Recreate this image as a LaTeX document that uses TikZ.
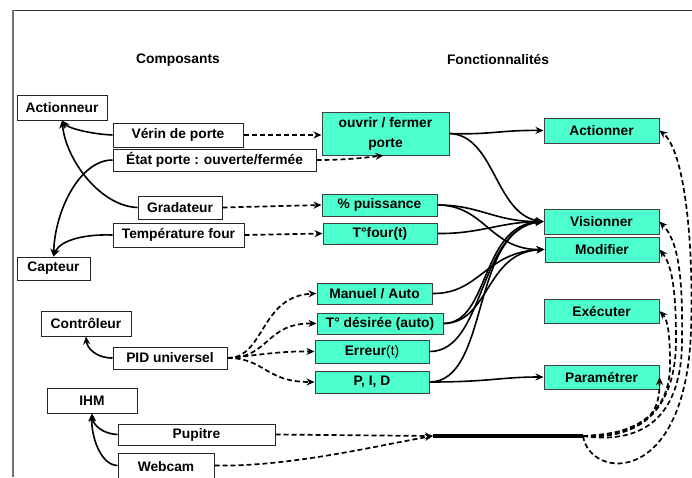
\documentclass[tikz,border=0pt]{standalone}
\usepackage{fontspec}
\setmainfont{Liberation Sans}
\usetikzlibrary{arrows.meta}
\definecolor{aqua}{RGB}{77,255,204}
\begin{document}
\begin{tikzpicture}[x=1pt,y=-1pt,
  every node/.style={font=\fontsize{13.8}{20}\selectfont\bfseries, inner sep=0pt},
  comp/.style={draw=black!85, fill=white, line width=1pt},
  func/.style={draw=black!75, fill=aqua, line width=1pt},
  sarr/.style={line width=1.6pt, -{Stealth[length=8pt,width=7pt]}},
  darr/.style={line width=1.7pt, dash pattern=on 5pt off 3pt, -{Stealth[length=8pt,width=7pt]}},
]
\useasboundingbox (0,0) rectangle (692,477);
% frame
\draw[black!80, line width=1pt] (13,10) -- (692,10);
\draw[black!55, line width=2pt] (13,10) -- (13,477);

% headers
\node (h1) at (178,60) {Composants};
\node (h2) at (498,60) {Fonctionnalités};

% components
\node[comp,minimum width=90pt,minimum height=25pt] (act) at (62,107.5) {Actionneur};
\node[comp,minimum width=130pt,minimum height=24pt] (verin) at (178,135) {Vérin de porte};
\node[comp,minimum width=203pt,minimum height=22pt] (etat) at (214.5,160) {État porte : ouverte/fermée};
\node[comp,minimum width=84pt,minimum height=23pt] (grad) at (180,207.5) {Gradateur};
\node[comp,minimum width=131pt,minimum height=24pt] (temp) at (178.5,235) {Température four};
\node[comp,minimum width=73pt,minimum height=23pt] (capt) at (53.5,268.5) {Capteur};
\node[comp,minimum width=90pt,minimum height=25pt] (ctrl) at (86,323.5) {Contrôleur};
\node[comp,minimum width=114pt,minimum height=22pt] (pid) at (170,358) {PID universel};
\node[comp,minimum width=90pt,minimum height=25pt] (ihm) at (92,400.5) {IHM};
\node[comp,minimum width=157pt,minimum height=21pt] (pup) at (196.5,434.5) {Pupitre};
\node[comp,minimum width=96pt,minimum height=27pt] (web) at (166,466.5) {Webcam};

% functions
\node[func,minimum width=127pt,minimum height=43pt,align=center] (ouv) at (385.5,133.5) {ouvrir / fermer\\porte};
\node[func,minimum width=115pt,minimum height=22pt] (puis) at (379.5,205) {\% puissance};
\node[func,minimum width=114pt,minimum height=21pt] (tfour) at (380,233.5) {T°four(t)};
\node[func,minimum width=115pt,minimum height=21pt] (man) at (374.5,293.5) {Manuel / Auto};
\node[func,minimum width=126pt,minimum height=21pt] (tdes) at (380,323.5) {T° désirée (auto)};
\node[func,minimum width=114pt,minimum height=23pt] (err) at (372,351.5) {Erreur\mdseries(t)};
\node[func,minimum width=114pt,minimum height=22pt] (pidg) at (372,382) {P, I, D};
\node[func,minimum width=115pt,minimum height=25pt] (actn) at (601.5,130.5) {Actionner};
\node[func,minimum width=115pt,minimum height=25pt] (vis) at (601.5,221.5) {Visionner};
\node[func,minimum width=114pt,minimum height=25pt] (mod) at (602,249.5) {Modifier};
\node[func,minimum width=115pt,minimum height=24pt] (exe) at (601.5,311) {Exécuter};
\node[func,minimum width=115pt,minimum height=24pt] (par) at (601.5,377) {Paramétrer};

% bar
\coordinate (barL) at (433,436);
\coordinate (barR) at (583,436);
\draw[line width=4pt] (barL) -- (barR);

% solid component arrows
\draw[sarr] (verin.west) .. controls (90,134) and (68,128) .. (act.south);
\draw[sarr] (grad.west) .. controls (100,206) and (66,160) .. (act.south);
\draw[sarr] (etat.west) .. controls (80,160) and (55,210) .. (capt.north);
\draw[sarr] (temp.west) .. controls (85,234) and (60,240) .. (capt.north);
\draw[sarr] (pid.west) .. controls (96,358) and (87,348) .. (ctrl.south);
\draw[sarr] (pup.west) .. controls (103,434) and (93,425) .. (ihm.south);
\draw[sarr] ([yshift=1pt]web.west) .. controls (100,465) and (91,435) .. (ihm.south);

% dashed component -> function
\draw[darr] (verin.east) -- (ouv.west |- verin.east);
\draw[darr] (etat.east) .. controls (350,160) and (370,157) .. ([xshift=-2pt]ouv.south);
\draw[darr] (grad.east) -- (puis.west);
\draw[darr] (temp.east) -- (tfour.west);
\draw[darr] (pid.east) .. controls (265,358) and (260,296) .. (man.west);
\draw[darr] (pid.east) .. controls (270,358) and (265,323) .. (tdes.west);
\draw[darr] (pid.east) .. controls (260,355) and (280,351) .. (err.west);
\draw[darr] (pid.east) .. controls (265,358) and (265,382) .. (pidg.west);
\draw[darr] (pup.east) -- (barL);
\draw[darr] ([yshift=1pt]web.east) .. controls (290,467) and (380,445) .. (barL);

% solid function arrows
\draw[sarr] (ouv.east) .. controls (490,135) and (500,130) .. (actn.west);
\draw[sarr] (ouv.east) .. controls (495,135) and (495,215) .. (vis.west);
\draw[sarr] (puis.east) .. controls (480,205) and (495,222) .. (vis.west);
\draw[sarr] (puis.east) .. controls (485,205) and (490,250) .. (mod.west);
\draw[sarr] (tfour.east) .. controls (480,234) and (500,222) .. (vis.west);
\draw[sarr] (man.east) .. controls (480,294) and (485,252) .. (mod.west);
\draw[sarr] (tdes.east) .. controls (490,323) and (480,225) .. (vis.west);
\draw[sarr] (tdes.east) .. controls (490,323) and (485,252) .. (mod.west);
\draw[sarr] (err.east) .. controls (485,352) and (478,228) .. (vis.west);
\draw[sarr] (pidg.east) .. controls (490,382) and (470,230) .. (vis.west);
\draw[sarr] (pidg.east) .. controls (490,382) and (500,377) .. (par.west);

% dashed bar -> functions
\draw[darr] (barR) .. controls (640,433) and (660,420) .. (par.east);
\draw[darr] (barR) .. controls (640,435) and (670,410) .. (670,365) .. controls (670,335) and (668,320) .. (exe.east);
\draw[darr] (barR) .. controls (640,440) and (676,410) .. (676,340) .. controls (676,290) and (672,265) .. (mod.east);
\draw[darr] (barR) .. controls (645,445) and (682,415) .. (682,340) .. controls (683,270) and (677,240) .. (vis.east);
\draw[darr] (barR) .. controls (590,480) and (686,488) .. (691,330) .. controls (694,240) and (684,150) .. (actn.east);
\end{tikzpicture}
\end{document}
